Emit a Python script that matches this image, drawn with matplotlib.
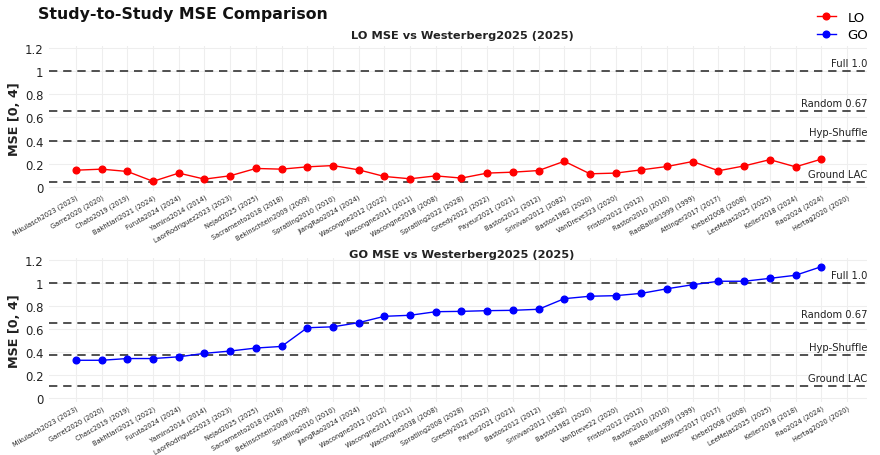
import numpy as np
import matplotlib
matplotlib.use('Agg')
from matplotlib import pyplot as plt

# study labels (as they appear on each panel)
lo_studies = ['Mikulasch2023 (2023)', 'Garre2020 (2020)', 'Chato2019 (2019)', 'Bakhtiari2021 (2024)',
              'Furuta2024 (2024)', 'Yamins2014 (2014)', 'LaorRodriguez2023 (2023)', 'Nejad2025 (2025)',
              'Sacramento2018 (2018)', 'Bekinschtein2009 (2009)', 'Spratling2010 (2010)', 'JiangRao2024 (2024)',
              'Wacongne2012 (2022)', 'Wacongne2011 (2011)', 'Wacongne2018 (2008)', 'Spratling2022 (2028)',
              'Greedy2022 (2022)', 'Payeur2021 (2021)', 'Bastos2012 (2012)', 'Srinivan2012 (2082)',
              'Bastos1982 (2020)', 'VanDreve323 (2020)', 'Friston2012 (2012)', 'Raston2010 (2010)',
              'RaoBallrai1999 (1999)', 'Attinger2017 (2017)', 'Kiebel2008 (2008)', 'LeeMejas2025 (2025)',
              'Keller2018 (2024)', 'Rao2024 (2024)', 'Hertag2020 (2020)']
go_studies = ['Mikulasch2023 (2023)', 'Garret2020 (2020)', 'Chasc2019 (2019)', 'Bakhtiari2021 (2022)',
              'Furuta2024 (2024)', 'Yamins2014 (2014)', 'LaorRodriguez2023 (2023)', 'Nejad2025 (2025)',
              'Sacramento2018 (2018)', 'Bekinschtein2009 (2009)', 'Spratling2010 (2010)', 'JiangRao2024 (2024)',
              'Wacongne2012 (2012)', 'Wacongne2011 (2011)', 'Wacongne2038 (2008)', 'Spratling2008 (2028)',
              'Greedy2022 (2022)', 'Payeur2021 (2021)', 'Bastos2012 (2012)', 'Srinivan2012 (1982)',
              'Bastos1982 (2020)', 'VanDreve22 (2020)', 'Friston2012 (2012)', 'Raston2010 (2010)',
              'RaoBallrai1999 (1999)', 'Attinger2017 (2017)', 'Kiebel2008 (2008)', 'LeeMejas2025 (2025)',
              'Keller2018 (2018)', 'Rao2024 (2024)', 'Hertag2020 (2020)']

# MSE values (last study has no value)
lo_mse = [0.145, 0.154, 0.134, 0.049, 0.120, 0.068, 0.097, 0.160, 0.154, 0.174,
          0.185, 0.148, 0.091, 0.071, 0.096, 0.077, 0.120, 0.128, 0.142, 0.222,
          0.114, 0.120, 0.148, 0.177, 0.220, 0.140, 0.182, 0.236, 0.174, 0.240, np.nan]
go_mse = [0.330, 0.330, 0.345, 0.345, 0.360, 0.390, 0.410, 0.436, 0.450, 0.612,
          0.620, 0.656, 0.711, 0.720, 0.751, 0.754, 0.760, 0.763, 0.772, 0.864,
          0.885, 0.890, 0.910, 0.950, 0.985, 1.015, 1.015, 1.040, 1.067, 1.141, np.nan]

# reference lines per panel
ref_labels = ['Full 1.0', 'Random 0.67', 'Hyp-Shuffle', 'Ground LAC']
lo_refs = [1.0, 0.655, 0.397, 0.04]
go_refs = [1.0, 0.655, 0.375, 0.107]

W, H = 880, 456
fig = plt.figure(figsize=(W / 100, H / 100), dpi=100)

def px_axes(left, top, right, bottom):
    return fig.add_axes([left / W, 1 - bottom / H, (right - left) / W, (bottom - top) / H])

panels = [
    (px_axes(49, 46.5, 867, 191.5), lo_studies, lo_mse, lo_refs, '#ff0000', 'LO',
     'LO MSE vs Westerberg2025 (2025)', 36),
    (px_axes(49, 258.6, 867, 402.8), go_studies, go_mse, go_refs, '#0000ff', 'GO',
     'GO MSE vs Westerberg2025 (2025)', 255),
]

for ax, studies, vals, refs, color, name, title, ty in panels:
    x = np.arange(len(studies))
    ax.plot(x, vals, color=color, lw=1.0, marker='o', ms=4.8, label=name, zorder=3)
    for val, lab in zip(refs, ref_labels):
        ax.axhline(val, color='#333333', lw=1.2, ls=(0, (5, 3.5)), zorder=2)
        ax.annotate(lab, xy=(1.0, val), xycoords=('axes fraction', 'data'),
                    xytext=(0, 2.5), textcoords='offset points',
                    ha='right', va='bottom', fontsize=7.2, color='#222222')
    ax.set_xlim(-1.05, len(studies) - 0.22)
    ax.set_ylim(-0.03, 1.22)
    ax.set_yticks([0, 0.2, 0.4, 0.6, 0.8, 1.0, 1.2])
    ax.set_yticklabels(['0', '0.2', '0.4', '0.6', '0.8', '1', '1.2'], fontsize=8.4, color='#222222')
    ax.set_xticks(x)
    ax.set_xticklabels(studies, rotation=30, ha='right', rotation_mode='anchor',
                       fontsize=4.8, color='#222222')
    ax.tick_params(length=0, pad=4)
    ax.tick_params(axis='x', pad=2)
    ax.grid(True, color='#eeeeee', lw=0.8, zorder=0)
    for sp in ax.spines.values():
        sp.set_visible(False)
    ax.set_ylabel('MSE [0, 4]', fontsize=9.2, fontweight='bold', color='#222222', labelpad=3)
    fig.text(462 / W, 1 - ty / H, title, fontsize=8.2, fontweight='bold',
             ha='center', va='center', color='#222222')

fig.text(38 / W, 1 - 15 / H, 'Study-to-Study MSE Comparison', fontsize=11.3, fontweight='heavy',
         ha='left', va='center', color='#111111')

handles = [panels[0][0].lines[0], panels[1][0].lines[0]]
fig.legend(handles, ['LO', 'GO'], loc='upper right', bbox_to_anchor=(1.0, 1.0),
           frameon=False, fontsize=9.5, handlelength=1.4, labelspacing=0.35, handletextpad=0.9)

fig.savefig('out.png', dpi=100)
